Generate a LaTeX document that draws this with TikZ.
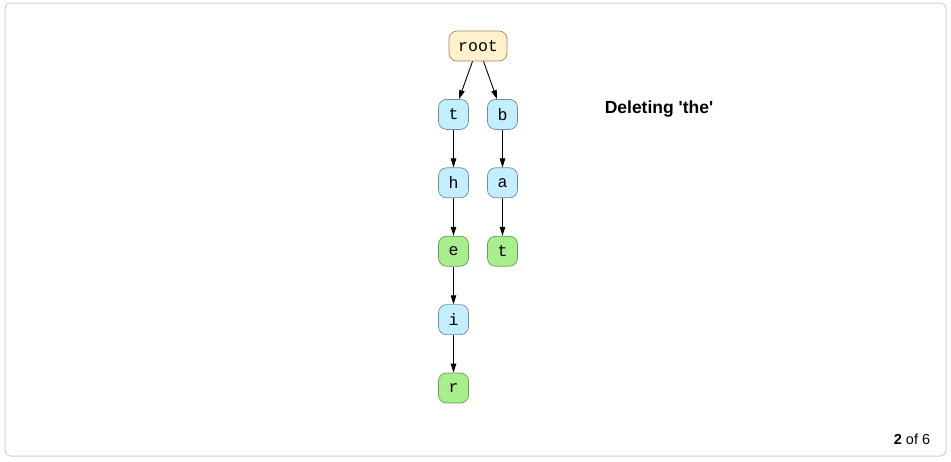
\documentclass[tikz,border=0pt]{standalone}
\usepackage{fontspec}
\setmainfont{Liberation Sans}
\setmonofont{Liberation Mono}
\usetikzlibrary{arrows.meta}
\definecolor{rootfill}{HTML}{FFF1CC}
\definecolor{rootline}{HTML}{A08A60}
\definecolor{midfill}{HTML}{C2EEFD}
\definecolor{midline}{HTML}{6C8E9C}
\definecolor{wordfill}{HTML}{A8EE8C}
\definecolor{wordline}{HTML}{6A9A5C}
\definecolor{framegray}{HTML}{D2D2D2}
\begin{document}
\begin{tikzpicture}[x=1pt,y=-1pt,level distance=68.4pt,
    edge from parent/.style={draw=black,line width=0.9pt,-{Triangle[length=9pt,width=5.5pt]}}]
  \tikzstyle{level 1}=[sibling distance=49pt]
  \tikzstyle{letter}=[rectangle,rounded corners=8pt,line width=0.7pt,
    minimum width=30pt,minimum height=30pt,inner sep=0pt,
    font=\ttfamily\fontsize{16.5}{16.5}\selectfont]
  \tikzstyle{mid}=[letter,fill=midfill,draw=midline]
  \tikzstyle{word}=[letter,fill=wordfill,draw=wordline]
  \useasboundingbox (0,0) rectangle (951,461);
  \draw[framegray,line width=1pt,rounded corners=6pt] (5,3) rectangle (946,456);
  \node[letter,fill=rootfill,draw=rootline,minimum width=58pt] (root) at (478,46) {root}
  child {node[mid] (t) {t}
          child {node[mid] (th) {h}
                  child {node[word] (the) {e}
                          child {node[mid] (thei) {i}
                                  child {node[word] (their) {r}}
                                 }
                         }
                 }
        }
  child {node[mid] (b) {b}
          child {node[mid] (ba) {a}
                  child {node[word] (bat) {t}}
                 }
        };
  \node[font=\bfseries\fontsize{17.5}{17.5}\selectfont] (title) at (659,109) {Deleting \textquotesingle the\textquotesingle};
  \node[font=\fontsize{14.5}{14.5}\selectfont] (pager) at (912,439) {\textbf{2} of 6};
\end{tikzpicture}
\end{document}
